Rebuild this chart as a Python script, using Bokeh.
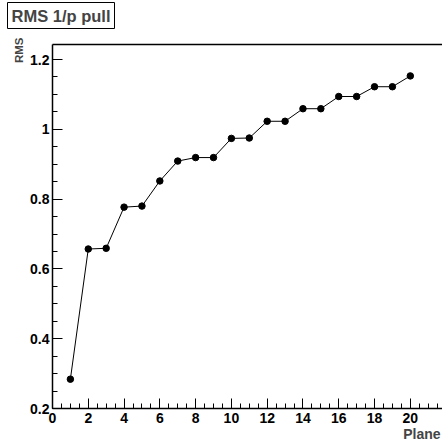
from bokeh.plotting import figure
from bokeh.models import (Range1d, SingleIntervalTicker, LinearAxis, Title,
                          ColumnDataSource, CustomJSTickFormatter)
from bokeh.embed import file_html
from bokeh.resources import INLINE

# data
planes = [1, 2, 3, 4, 5, 6, 7, 8, 9, 10, 11, 12, 13, 14, 15, 16, 17, 18, 19, 20]
rms = [0.284, 0.657, 0.659, 0.777, 0.780, 0.852, 0.909, 0.919, 0.919, 0.974,
       0.975, 1.023, 1.023, 1.059, 1.059, 1.094, 1.094, 1.122, 1.122, 1.153]
title_text = "RMS 1/p pull"
x_title = "Plane"
y_title = "RMS"

FONT = "Liberation Sans"

src = ColumnDataSource(dict(x=planes, y=rms))

p = figure(width=442, height=446, output_backend="svg", toolbar_location=None,
           x_range=Range1d(0, 21.8), y_range=Range1d(0.2, 1.243),
           min_border_left=52, min_border_right=0, min_border_top=44,
           min_border_bottom=38, x_axis_location=None, y_axis_location=None)
p.outline_line_color = None
p.xgrid.visible = False
p.ygrid.visible = False
p.background_fill_color = "white"
p.border_fill_color = "white"

def style_axis(ax):
    ax.axis_line_color = "black"
    ax.axis_line_width = 1.5
    ax.major_tick_line_color = "black"
    ax.minor_tick_line_color = "black"
    ax.major_tick_in = 10
    ax.major_tick_out = 0
    ax.minor_tick_in = 5
    ax.minor_tick_out = 0
    ax.major_label_text_font = FONT
    ax.major_label_text_font_style = "bold"
    ax.major_label_text_font_size = "14px"
    ax.major_label_text_color = "black"

fmt = CustomJSTickFormatter(code="return Number(tick.toFixed(3)).toString();")

xax = LinearAxis(ticker=SingleIntervalTicker(interval=2, num_minor_ticks=4), formatter=fmt)
style_axis(xax)
xax.major_label_standoff = 4
p.add_layout(xax, "below")

yax = LinearAxis(ticker=SingleIntervalTicker(interval=0.2, num_minor_ticks=4), formatter=fmt)
style_axis(yax)
yax.major_label_standoff = 3
p.add_layout(yax, "left")

top = LinearAxis(ticker=SingleIntervalTicker(interval=2, num_minor_ticks=0), formatter=fmt)
top.axis_line_color = "black"
top.axis_line_width = 1.5
top.major_tick_line_color = None
top.minor_tick_line_color = None
top.major_tick_in = 0
top.major_tick_out = 16
top.major_label_text_font_size = "1px"
top.major_label_text_color = None
top.major_label_standoff = 0
p.add_layout(top, "above")

p.line("x", "y", source=src, line_color="black", line_width=1)
p.scatter("x", "y", source=src, size=6.5, fill_color="black", line_color="black")

p.add_layout(Title(text=title_text, align="left", offset=-45, standoff=0,
                   text_font=FONT, text_font_style="bold", text_font_size="16.5px",
                   border_line_color="black", border_line_width=1,
                   background_fill_color="white", padding=4), "above")
p.add_layout(Title(text=y_title, align="right", offset=-7, standoff=6,
                   text_font=FONT, text_font_style="bold", text_font_size="11.5px"), "left")
p.add_layout(Title(text=x_title, align="right", offset=2, standoff=0,
                   vertical_align="top",
                   text_font=FONT, text_font_style="bold", text_font_size="14px"), "below")

open("out.html", "w").write(file_html(p, INLINE))
